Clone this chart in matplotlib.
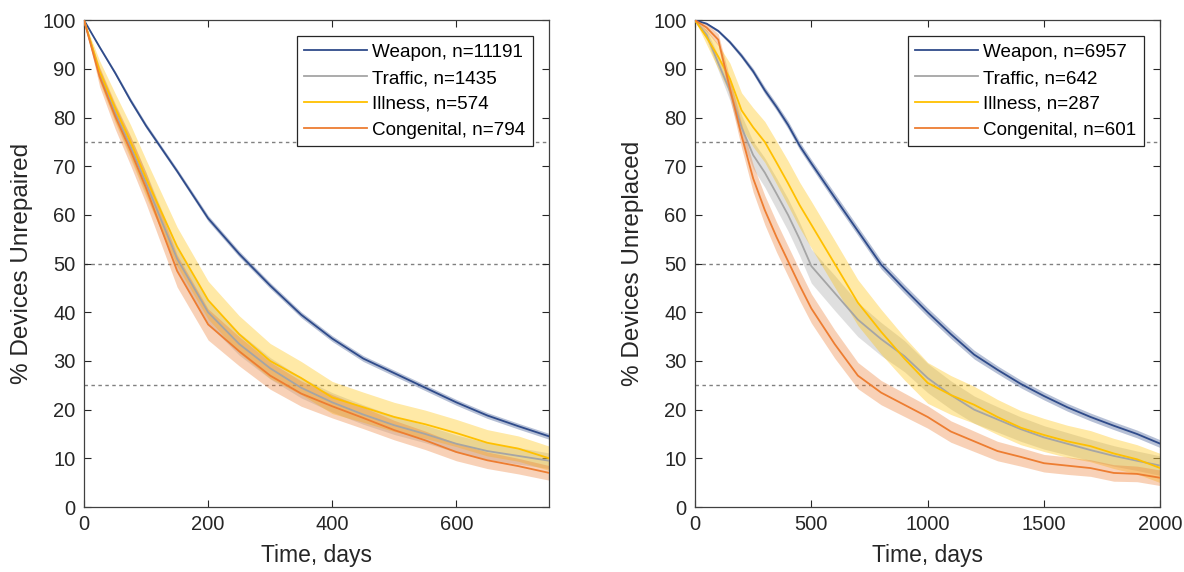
import numpy as np
import matplotlib.pyplot as plt

plt.rcParams['font.family'] = ['Liberation Sans', 'DejaVu Sans']

# left panel: time to repair
days_rep = [0, 25, 50, 75, 100, 150, 200, 250, 300, 350, 400, 450, 500, 550, 600, 650, 700, 750]
weapon_rep = [100, 94.5, 89.2, 83.5, 78.3, 69, 59.3, 52, 45.5, 39.5, 34.6, 30.5, 27.5, 24.5, 21.5, 18.8, 16.6, 14.5]
traffic_rep = [100, 89, 81, 74, 66.5, 51, 40, 33.5, 28.5, 24.5, 21.5, 19, 16.8, 15, 13, 11.5, 10.5, 9.5]
illness_rep = [100, 89.5, 82, 75, 67.5, 53.5, 42.5, 35.5, 30, 26.5, 22.5, 20.5, 18.5, 17, 15.2, 13.2, 12, 10]
congen_rep = [100, 88.4, 80.3, 73.2, 65.5, 48.5, 37.5, 32, 27, 23.3, 20.7, 18.3, 15.8, 13.7, 11.3, 9.6, 8.4, 7]
# half-width of the confidence bands
weapon_rep_ci = [0, 0.3, 0.4, 0.5, 0.5, 0.5, 0.6, 0.6, 0.6, 0.6, 0.6, 0.6, 0.6, 0.6, 0.6, 0.6, 0.6, 0.6]
traffic_rep_ci = [0, 1.2, 1.6, 2, 2.2, 2.4, 2.4, 2.3, 2.2, 2.1, 2, 2, 1.9, 1.8, 1.8, 1.7, 1.7, 1.6]
illness_rep_ci = [0, 2.2, 3, 3.5, 3.8, 4, 3.9, 3.8, 3.6, 3.4, 3.3, 3.1, 3, 2.9, 2.8, 2.7, 2.6, 2.5]
congen_rep_ci = [0, 2, 2.6, 3, 3.2, 3.3, 3.2, 3, 2.8, 2.6, 2.4, 2.2, 2, 1.9, 1.8, 1.7, 1.6, 1.5]

# right panel: time to replacement
days_repl = [0, 50, 100, 150, 200, 250, 300, 350, 400, 450, 500, 600, 700, 800, 900, 1000,
             1100, 1200, 1300, 1400, 1500, 1600, 1700, 1800, 1900, 2000]
weapon_repl = [100, 99.3, 97.8, 95.5, 92.7, 89.5, 85.6, 82.2, 78.5, 74.2, 70.6, 63.6, 56.7, 49.8, 44.8, 40,
               35.5, 31.3, 28.2, 25.3, 22.8, 20.5, 18.5, 16.7, 15, 13]
traffic_repl = [100, 97, 91.2, 85.5, 78, 72.3, 68.7, 64.4, 60, 55, 49.5, 44, 38.5, 34.5, 31, 26.5,
                23, 20, 18, 16, 14.3, 13, 11.7, 10.5, 9.5, 8.5]
illness_repl = [100, 96.5, 92.5, 88, 81.5, 78, 75, 70.8, 66.5, 62, 58, 50, 42, 36, 30.5, 25.5,
                23, 21, 18.5, 16.3, 14.8, 13.5, 12.5, 11, 9.8, 8]
congen_repl = [100, 98.5, 96, 86, 76.3, 67.5, 61, 55.5, 50.5, 45.5, 40.8, 33.5, 27, 23.5, 21, 18.5,
               15.5, 13.5, 11.5, 10.3, 9, 8.5, 8, 7, 6.8, 6]
weapon_repl_ci = [0, 0.2, 0.3, 0.4, 0.5, 0.6, 0.7, 0.7, 0.8, 0.8, 0.8, 0.9, 0.9, 0.9, 0.9, 0.9,
                  0.9, 0.9, 0.8, 0.8, 0.8, 0.8, 0.8, 0.8, 0.8, 0.8]
traffic_repl_ci = [0, 1, 1.5, 2, 2.5, 2.8, 3, 3.2, 3.3, 3.4, 3.5, 3.6, 3.5, 3.4, 3.2, 3,
                   2.9, 2.8, 2.6, 2.5, 2.4, 2.3, 2.2, 2.1, 2, 2]
illness_repl_ci = [0, 1.5, 2.5, 3.2, 3.6, 4, 4.2, 4.4, 4.6, 4.7, 4.8, 4.8, 4.7, 4.6, 4.4, 4.2,
                   4, 3.8, 3.6, 3.5, 3.4, 3.3, 3.2, 3.1, 3, 3]
congen_repl_ci = [0, 0.8, 1.2, 2, 2.5, 2.8, 3, 3.1, 3.1, 3.1, 3, 2.9, 2.7, 2.5, 2.4, 2.3,
                  2.2, 2.1, 2, 1.9, 1.8, 1.8, 1.7, 1.7, 1.6, 1.6]

labels_rep = ['Weapon, n=11191', 'Traffic, n=1435', 'Illness, n=574', 'Congenital, n=794']
labels_repl = ['Weapon, n=6957', 'Traffic, n=642', 'Illness, n=287', 'Congenital, n=601']
colors = ['#2f4b8a', '#a5a5a5', '#ffc000', '#ed7d31']

fig = plt.figure(figsize=(11.84, 5.72), dpi=100)
ax1 = fig.add_axes([0.071, 0.1136, 0.393, 0.851])
ax2 = fig.add_axes([0.587, 0.1136, 0.393, 0.851])


def panel(ax, days, curves, cis, labels, xmax, xticks, ylabel):
    for y in (25, 50, 75):
        ax.axhline(y, color='#808080', lw=1.0, ls=(0, (2.5, 2.5)), zorder=1)
    for vals, ci, c in zip(curves, cis, colors):
        v = np.array(vals)
        e = np.array(ci)
        ax.fill_between(days, v - e, v + e, color=c, alpha=0.35, lw=0, zorder=2)
    for vals, c, lab in zip(curves, colors, labels):
        ax.plot(days, vals, color=c, lw=1.3, label=lab, zorder=3)
    ax.set_xlim(0, xmax)
    ax.set_ylim(0, 100)
    ax.set_xticks(xticks)
    ax.set_yticks(range(0, 101, 10))
    ax.tick_params(direction='in', top=True, right=True, labelsize=14.5,
                   colors='#262626', length=5, width=0.8, pad=6)
    for s in ax.spines.values():
        s.set_color('#404040')
        s.set_linewidth(0.9)
    ax.set_xlabel('Time, days', fontsize=16.5, color='#262626', labelpad=7)
    ax.set_ylabel(ylabel, fontsize=17.5, color='#262626', labelpad=7)
    leg = ax.legend(loc='upper right', bbox_to_anchor=(0.965, 0.967), fontsize=13.6,
                    fancybox=False, framealpha=1, edgecolor='#262626',
                    handlelength=3.3, handletextpad=0.3, labelspacing=0.46,
                    borderpad=0.4, borderaxespad=0)
    leg.get_frame().set_linewidth(0.9)


panel(ax1, days_rep, [weapon_rep, traffic_rep, illness_rep, congen_rep],
      [weapon_rep_ci, traffic_rep_ci, illness_rep_ci, congen_rep_ci],
      labels_rep, 750, [0, 200, 400, 600], '% Devices Unrepaired')
panel(ax2, days_repl, [weapon_repl, traffic_repl, illness_repl, congen_repl],
      [weapon_repl_ci, traffic_repl_ci, illness_repl_ci, congen_repl_ci],
      labels_repl, 2000, [0, 500, 1000, 1500, 2000], '% Devices Unreplaced')

fig.savefig('out.png', dpi=100)
